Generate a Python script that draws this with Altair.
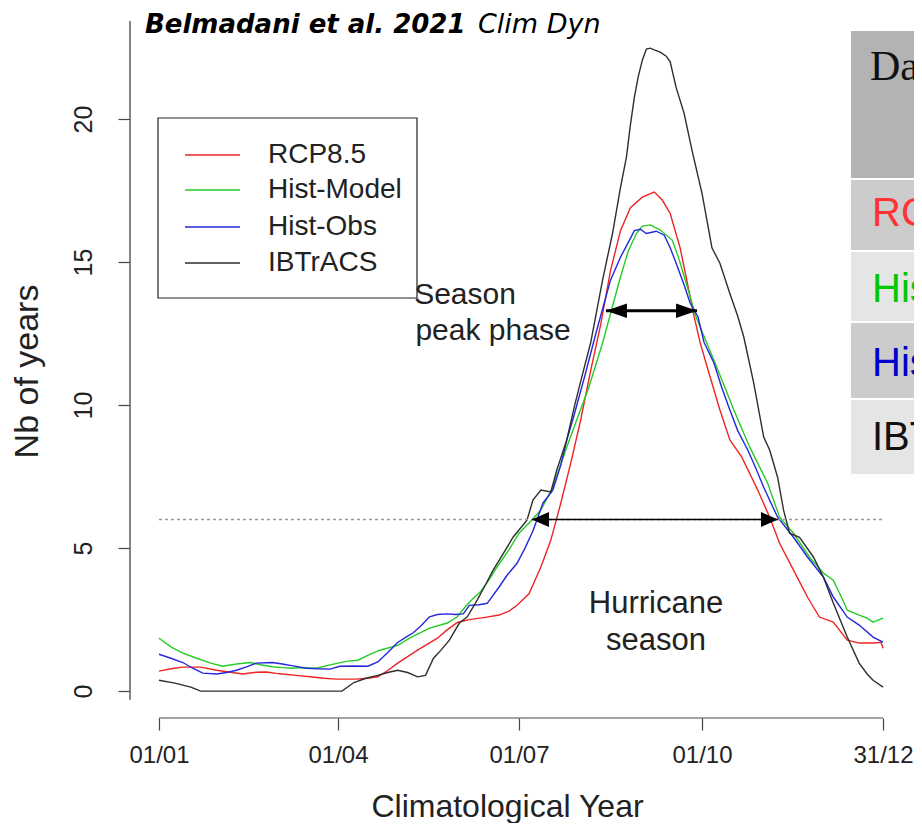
import altair as alt
import pandas as pd

# ---------------- data ----------------
series_names = ["RCP8.5", "Hist-Model", "Hist-Obs", "IBTrACS"]
series_colors = ["#ee2424", "#26cc26", "#2626dd", "#2e2e2e"]

rcp_day = [1, 7, 13, 22, 30, 37, 43, 50, 55, 60, 63, 70, 77, 84, 90, 100, 106, 111, 116, 121, 131, 141, 146, 151, 157,
           165, 172, 177, 181, 187, 193, 198, 203, 208, 213, 218, 223, 228, 233, 238, 244, 250, 254, 258, 263, 268,
           270, 273, 276, 283, 288, 294, 302, 308, 313, 320, 327, 333, 340, 347, 353, 360, 364, 365]
rcp_val = [0.70, 0.78, 0.84, 0.84, 0.73, 0.66, 0.60, 0.66, 0.67, 0.62, 0.60, 0.55, 0.50, 0.45, 0.42, 0.42, 0.45, 0.50,
           0.72, 0.98, 1.43, 1.85, 2.15, 2.40, 2.50, 2.58, 2.66, 2.80, 3.00, 3.40, 4.34, 5.28, 6.57, 7.97, 9.48, 11.2,
           12.8, 14.7, 16.1, 16.9, 17.27, 17.45, 17.17, 16.7, 15.5, 13.8, 13.1, 12.2, 11.47, 9.83, 8.78, 8.18, 7.03,
           6.08, 5.17, 4.23, 3.29, 2.59, 2.41, 1.78, 1.68, 1.68, 1.71, 1.5]

model_day = [1, 7, 13, 20, 27, 33, 40, 47, 52, 58, 63, 68, 74, 80, 86, 91, 96, 101, 106, 112, 121, 127, 132, 137, 146,
             151, 155, 158, 163, 167, 171, 177, 182, 188, 193, 199, 206, 211, 217, 224, 233, 237, 241, 244, 248, 253,
             259, 262, 266, 271, 278, 280, 285, 290, 298, 307, 313, 320, 328, 335, 340, 344, 347, 353, 357, 360, 365]
model_val = [1.85, 1.55, 1.33, 1.15, 0.98, 0.87, 0.95, 1.00, 0.92, 0.85, 0.82, 0.80, 0.82, 0.80, 0.90, 0.98, 1.05, 1.08,
             1.25, 1.43, 1.60, 1.85, 2.03, 2.20, 2.38, 2.60, 2.95, 3.18, 3.50, 3.90, 4.34, 4.95, 5.52, 5.95, 6.33, 7.13,
             8.53, 9.48, 10.6, 12.17, 14.48, 15.4, 16.0, 16.26, 16.3, 16.12, 15.77, 15.2, 14.27, 13.08, 11.9, 11.57,
             10.7, 9.83, 8.53, 7.27, 6.08, 5.52, 4.69, 4.13, 3.88, 3.3, 2.83, 2.66, 2.55, 2.41, 2.55]

obs_day = [1, 7, 13, 18, 23, 30, 35, 40, 45, 50, 58, 63, 67, 75, 81, 87, 92, 99, 106, 111, 116, 121, 125, 129, 133, 137,
           141, 146, 150, 154, 157, 162, 166, 172, 176, 181, 185, 189, 194, 199, 203, 206, 209, 215, 221, 228, 233, 237,
           240, 243, 246, 251, 255, 258, 261, 265, 268, 272, 275, 280, 284, 288, 292, 297, 301, 305, 312, 320, 327,
           335, 340, 347, 353, 360, 365]
obs_val = [1.29, 1.15, 1.00, 0.80, 0.63, 0.60, 0.65, 0.73, 0.85, 0.98, 1.00, 0.95, 0.90, 0.80, 0.78, 0.77, 0.87, 0.88,
           0.87, 1.02, 1.35, 1.70, 1.88, 2.05, 2.30, 2.60, 2.68, 2.70, 2.68, 2.70, 3.00, 3.02, 3.07, 3.64, 4.05, 4.47,
           5.0, 5.60, 6.57, 7.03, 7.9, 8.78, 9.48, 11.0, 12.6, 14.37, 15.17, 15.7, 16.1, 16.15, 16.0, 16.08, 15.94,
           15.5, 14.96, 14.2, 13.57, 13.08, 12.2, 11.47, 10.6, 9.83, 9.1, 8.43, 7.8, 7.13, 6.08, 5.38, 4.69, 3.99,
           3.29, 2.59, 2.31, 1.89, 1.71]

ibt_day = [1, 9, 17, 22, 93, 99, 105, 111, 116, 121, 126, 131, 135, 139, 143, 147, 152, 156, 161, 165, 169, 174, 179,
           186, 189, 193, 198, 201, 206, 210, 214, 218, 224, 229, 233, 236, 238, 240, 242, 244, 246, 248, 250, 253,
           256, 258, 261, 265, 269, 274, 279, 283, 288, 292, 295, 300, 305, 308, 312, 315, 318, 323, 330, 335, 340,
           344, 347, 353, 357, 360, 365]
ibt_val = [0.38, 0.28, 0.14, 0.0, 0.0, 0.30, 0.45, 0.55, 0.65, 0.73, 0.65, 0.50, 0.55, 1.15, 1.45, 1.78, 2.38, 2.60,
           3.18, 3.70, 4.23, 4.80, 5.38, 5.98, 6.68, 7.03, 6.96, 7.73, 8.78, 10.0, 11.1, 12.17, 14.37, 16.0, 17.6,
           18.67, 19.8, 20.77, 21.5, 22.06, 22.45, 22.48, 22.42, 22.34, 22.2, 22.0, 21.1, 20.2, 18.9, 17.4, 15.5,
           14.96, 13.9, 13.1, 12.38, 10.77, 8.88, 8.43, 7.48, 6.33, 5.52, 5.38, 4.69, 3.99, 3.08, 2.4, 1.89, 0.98,
           0.6, 0.38, 0.14]

tick_days = [1, 91, 182, 274, 365]
tick_labels = ["01/01", "01/04", "01/07", "01/10", "31/12"]
y_ticks = [0, 5, 10, 15, 20]

threshold = 6.0
arrow_y = [13.3, 6.0]
arrow_x0 = [225.7, 188.5]
arrow_x1 = [271.5, 312.2]

table_header = "Dataset"
table_rows = ["RCP8.5", "Hist-Model", "Hist-Obs", "IBTrACS"]
table_text_colors = ["#ff3333", "#00c800", "#0000cc", "#111111"]

# ---------------- build ----------------
rows = []
for name, ds, vs in [(series_names[0], rcp_day, rcp_val), (series_names[1], model_day, model_val),
                     (series_names[2], obs_day, obs_val), (series_names[3], ibt_day, ibt_val)]:
    for d, v in zip(ds, vs):
        rows.append({"day": d, "val": v, "series": name})
df = pd.DataFrame(rows)

x_scale = alt.Scale(domain=[-13.56, 379.56], nice=False, zero=False)
y_scale = alt.Scale(domain=[-0.94, 23.43], nice=False, zero=False)

label_expr = " : ".join(f"datum.value == {d} ? '{l}'" for d, l in zip(tick_days, tick_labels)) + " : ''"

FONT = "Liberation Sans"
TXT = "#222222"

X_AXIS = alt.Axis(
    values=tick_days, labelExpr=label_expr, domain=False, grid=False,
    tickSize=12, tickColor="#444444", tickWidth=1.2,
    labelFont=FONT, labelFontSize=24,
    labelColor=TXT, labelPadding=13, labelAngle=0,
    title="Climatological Year", titleFont=FONT, titleFontSize=32, titleFontWeight="normal",
    titleColor=TXT, titleX=377, titleY=98, titleAlign="center", titleBaseline="alphabetic")
Y_AXIS = alt.Axis(
    values=y_ticks, domain=False, grid=False, tickSize=12, tickColor="#444444", tickWidth=1.2,
    labelAngle=270, labelAlign="center", labelBaseline="bottom", labelPadding=22,
    labelFont=FONT, labelFontSize=25, labelColor=TXT,
    title="Nb of years", titleFont=FONT, titleFontSize=34, titleFontWeight="normal", titleColor=TXT,
    titleAngle=270, titleX=-103, titleY=350, titleAlign="center", titleBaseline="middle")


def X(field):
    return alt.X(field, scale=x_scale, axis=X_AXIS)


def Y(field):
    return alt.Y(field, scale=y_scale, axis=Y_AXIS)


lines = alt.Chart(df).mark_line(strokeWidth=1.4).encode(
    x=X("day:Q"), y=Y("val:Q"),
    color=alt.Color("series:N", scale=alt.Scale(domain=series_names, range=series_colors), legend=None),
)

thr_df = pd.DataFrame({"day": [tick_days[0]], "day2": [tick_days[-1]], "val": [threshold]})
thr = alt.Chart(thr_df).mark_rule(color="#999999", strokeWidth=1.5, strokeDash=[3, 3]).encode(
    x=X("day:Q"), x2="day2:Q", y=Y("val:Q"))

xaxis_df = pd.DataFrame({"day": [tick_days[0]], "day2": [tick_days[-1]], "val": [-0.94]})
xaxis_line = alt.Chart(xaxis_df).mark_rule(color="#444444", strokeWidth=1.2).encode(
    x=X("day:Q"), x2="day2:Q", y=Y("val:Q"))

yaxis_df = pd.DataFrame({"day": [-13.56], "val": [-0.3], "val2": [23.43]})
yaxis_line = alt.Chart(yaxis_df).mark_rule(color="#666666", strokeWidth=1.6).encode(
    x=X("day:Q"), y=Y("val:Q"), y2="val2:Q")

# arrows
arr_df = pd.DataFrame({"day": arrow_x0, "day2": arrow_x1, "val": arrow_y, "w": [3.0, 1.5]})
arrow_layers = []
head_specs = [(441, 0.7), (289, 0.88)]
for i in range(len(arrow_y)):
    sub = arr_df.iloc[[i]]
    arrow_layers.append(alt.Chart(sub).mark_rule(color="black", strokeWidth=float(sub["w"].iloc[0])).encode(
        x=X("day:Q"), x2="day2:Q", y=Y("val:Q")))
    size, k = head_specs[i]
    left_shape = f"M0,0L2,-{k}L2,{k}Z"
    right_shape = f"M0,0L-2,-{k}L-2,{k}Z"
    arrow_layers.append(alt.Chart(sub).mark_point(shape=left_shape, size=size, filled=True, color="black",
                                                  opacity=1, strokeWidth=0).encode(
        x=X("day:Q"), y=Y("val:Q")))
    arrow_layers.append(alt.Chart(sub).mark_point(shape=right_shape, size=size, filled=True, color="black",
                                                  opacity=1, strokeWidth=0).encode(
        x=X("day2:Q"), y=Y("val:Q")))

one = pd.DataFrame({"a": [0]})


def text_layer(txt, x, y, size, align="center", font=FONT, style="normal", weight="normal", color=TXT,
               baseline="alphabetic"):
    return alt.Chart(one).mark_text(text=txt, align=align, baseline=baseline, font=font, fontSize=size,
                                    fontStyle=style, fontWeight=weight, color=color).encode(
        x=alt.value(x), y=alt.value(y))


def rect_layer(x, x2, y, y2, fill, stroke=None):
    kw = dict(fill=fill)
    if stroke:
        kw.update(stroke=stroke, strokeWidth=1.2)
    return alt.Chart(one).mark_rect(**kw).encode(x=alt.value(x), x2=alt.value(x2), y=alt.value(y), y2=alt.value(y2))


deco = []
# title
deco.append(text_layer("Belmadani et al. 2021", 15, 12, 26, align="left", font="DejaVu Sans", style="italic",
                       weight="bold", color="#000000"))
deco.append(text_layer("Clim Dyn", 348, 12, 27, align="left", font="DejaVu Sans", style="italic",
                       color="#000000"))

# legend box
deco.append(rect_layer(28, 287, 97, 277, "white", stroke="#222222"))
leg_y = [134, 169, 206, 242]
for name, col, yy in zip(series_names, series_colors, leg_y):
    deco.append(alt.Chart(one).mark_rule(color=col, strokeWidth=1.3).encode(
        x=alt.value(55), x2=alt.value(110), y=alt.value(yy)))
    deco.append(text_layer(name, 138, yy, 28, align="left", baseline="middle"))

# annotations
deco.append(text_layer("Season", 335, 283, 30))
deco.append(text_layer("peak phase", 363, 319, 30))
deco.append(text_layer("Hurricane", 526, 592, 31))
deco.append(text_layer("season", 526, 629, 31))

# table (cut at the right edge)
deco.append(rect_layer(721, 800, 10, 157, "#b3b3b3"))
row_bounds = [(159, 229), (231, 300), (302, 377), (379, 453)]
row_fills = ["#cccccc", "#e5e5e5", "#cccccc", "#e5e5e5"]
for (a, b), f in zip(row_bounds, row_fills):
    deco.append(rect_layer(721, 800, a, b, f))
deco.append(text_layer(table_header, 740, 59, 42, align="left", font="Liberation Serif", color="#111111"))
row_base = [205, 281, 355, 429]
for txt, col, yb in zip(table_rows, table_text_colors, row_base):
    deco.append(text_layer(txt, 742, yb, 40, align="left", color=col))

chart = alt.layer(lines, thr, xaxis_line, yaxis_line, *arrow_layers, *deco).properties(
    width=782, height=697,
    autosize=alt.AutoSizeParams(type="none"),
    padding={"left": 122, "top": 13, "right": 2, "bottom": 105},
    background="white",
).configure_view(stroke=None)

chart.save("out.html", embed_options={"renderer": "svg", "actions": False})
